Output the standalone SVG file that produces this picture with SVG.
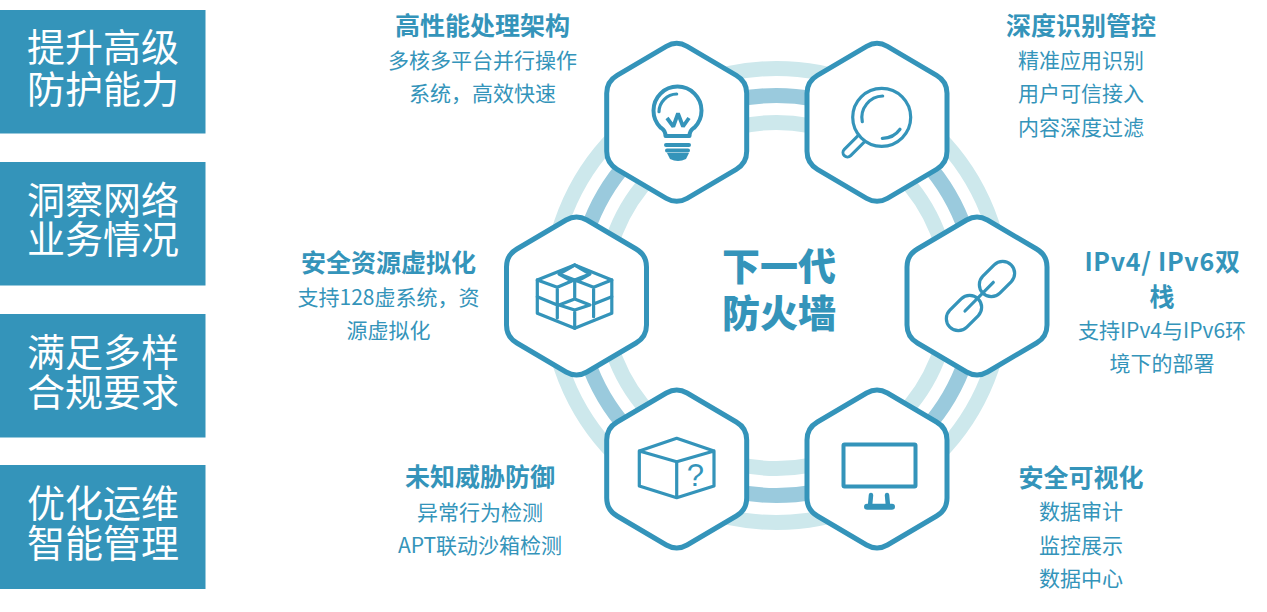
<svg xmlns="http://www.w3.org/2000/svg" width="1267" height="612" viewBox="0 0 1267 612">
<style>
text{font-family:"Noto Sans CJK SC","Liberation Sans",sans-serif;text-anchor:middle}
.box{fill:#3494BA}
.bt{fill:#fff;font-size:38px}
.ti{fill:#3494BA;font-size:25px;font-weight:700}
.de{fill:#3494BA;font-size:21px}
.ce{fill:#3494BA;font-size:38px;font-weight:900}
.hex{fill:#fff;stroke:#3494BA;stroke-width:5}
.ic{fill:none;stroke:#3494BA;stroke-width:3.200;stroke-linecap:round;stroke-linejoin:round}
.th{stroke-width:4}
.w{stroke-width:3.800;stroke-linecap:butt;stroke-linejoin:bevel}
.ring{fill:none;stroke-width:15}
.l{stroke:#CDE8EC}
.d{stroke:#9ACADD}
</style>
<defs>
<path id="h" class="hex" d="M-10.4,-76Q0,-82 10.4,-76L59.6,-47Q70,-41 70,-29L70,29Q70,41 59.6,47L10.4,76Q0,82 -10.4,76L-59.6,47Q-70,41 -70,29L-70,-29Q-70,-41 -59.6,-47Z"/>
</defs>
<rect width="1267" height="612" fill="#fff"/>
<g id="box1"><rect class="box" x="0" y="10" width="205.500" height="123.500"/><text class="bt" x="103" y="61">提升高级</text><text class="bt" x="103" y="103">防护能力</text></g>
<g id="box2"><rect class="box" x="0" y="162" width="205.500" height="123.500"/><text class="bt" x="103" y="214">洞察网络</text><text class="bt" x="103" y="253">业务情况</text></g>
<g id="box3"><rect class="box" x="0" y="314" width="205.500" height="123.500"/><text class="bt" x="103" y="366">满足多样</text><text class="bt" x="103" y="406">合规要求</text></g>
<g id="box4"><rect class="box" x="0" y="465" width="205.500" height="124"/><text class="bt" x="103" y="517">优化运维</text><text class="bt" x="103" y="557">智能管理</text></g>
<g id="connectors">
<circle class="ring l" cx="776.5" cy="295.5" r="227"/>
<circle class="ring d" cx="776.5" cy="295.5" r="200"/>
<circle class="ring l" cx="776.5" cy="295.5" r="173"/>
</g>
<g id="center"><text class="ce" x="779" y="280">下一代</text><text class="ce" x="779" y="327">防火墙</text></g>
<g id="n1">
<use href="#h" x="676.7" y="122.3"/>
<path class="ic th" d="M665.500,136C665.500,130 662,128.500 660.500,127.500A24,24 0 1 1 694.500,127.500C693,128.500 689.500,130 689.500,136Z"/>
<path class="ic" d="M676.700,94A18,18 0 0 0 659,111.700"/>
<path class="ic w" d="M667,118L673.300,126.500L678,113.500L683,126.500L689,118"/>
<path class="ic th" d="M666,145H689M667,150.500H688"/>
<path d="M667,153H689L686,159Q678,163 670,159Z" fill="#3494BA"/>
<text class="ti" x="482.500" y="35">高性能处理架构</text><text class="de" x="482.500" y="68">多核多平台并行操作</text><text class="de" x="482.500" y="101">系统，高效快速</text>
</g>
<g id="n2">
<use href="#h" x="877" y="122.3"/>
<path d="M847.500,152.500L862,138" fill="none" stroke="#3494BA" stroke-width="12" stroke-linecap="round"/>
<path d="M847.500,152.500L862,138" fill="none" stroke="#fff" stroke-width="6" stroke-linecap="round"/>
<circle cx="881.700" cy="117.300" r="29" fill="#fff" stroke="#3494BA" stroke-width="3.200"/>
<path class="ic" d="M882.700,96A21.500,21.500 0 0 0 862.300,121.700M882.300,138.300A21.500,21.500 0 0 0 900,129.300"/>
<text class="ti" x="1081" y="35">深度识别管控</text><text class="de" x="1081" y="68">精准应用识别</text><text class="de" x="1081" y="101">用户可信接入</text><text class="de" x="1081" y="135">内容深度过滤</text>
</g>
<g id="n3">
<use href="#h" x="576.5" y="296"/>
<path class="ic" d="M574.700,265L611.800,280V313.300L574.700,328.300L537.300,313.300V280Z"/>
<path class="ic" d="M574.700,265L590,274L574.700,280L559,274M537.300,280L557.300,287.300L571.800,281L559,274L574.700,265M611.800,280L593.600,287.300L577.300,281L590,274M557.300,287.300V318M593.600,287.300V316.700M574.700,280V299M574.700,299L590,305L574.700,310L559,305ZM574.700,310V328.300M537.300,296.700L557.300,305M611.800,296.700L593.600,304"/>
<text class="ti" x="388.500" y="272">安全资源虚拟化</text><text class="de" x="388.500" y="305">支持128虚系统，资</text><text class="de" x="388.500" y="338">源虚拟化</text>
</g>
<g id="n4">
<use href="#h" x="977" y="296"/>
<rect class="ic" x="977" y="267" width="40" height="24" rx="12" transform="rotate(-45 997 279)"/>
<rect class="ic" x="944" y="301" width="40" height="24" rx="12" transform="rotate(-45 964 313)"/>
<path class="ic" d="M965,311L993.300,282.300"/>
<text class="ti" x="1162.500" y="271" letter-spacing="0.700">IPv4/ IPv6双</text><text class="ti" x="1162" y="306">栈</text><text class="de" x="1162" y="338">支持IPv4与IPv6环</text><text class="de" x="1162" y="371">境下的部署</text>
</g>
<g id="n5">
<use href="#h" x="676.7" y="469"/>
<path class="ic" d="M676.700,438.300L714,451V486L676.700,497.700L639.300,486V451ZM639.300,451L676.700,461.700L714,451M676.700,461.700V497.700"/>
<text x="695.300" y="486" fill="#3494BA" font-size="31" style="font-family:'Liberation Sans',sans-serif">?</text>
<text class="ti" x="480" y="486">未知威胁防御</text><text class="de" x="480" y="520">异常行为检测</text><text class="de" x="480" y="553">APT联动沙箱检测</text>
</g>
<g id="n6">
<use href="#h" x="877" y="469"/>
<rect x="843.500" y="444.500" width="72" height="42" rx="1" fill="none" stroke="#3494BA" stroke-width="4"/>
<path d="M871,495L870,506M887,495L888,506" fill="none" stroke="#3494BA" stroke-width="4.500" stroke-linecap="round"/>
<path d="M867,506.700H892" fill="none" stroke="#3494BA" stroke-width="6" stroke-linecap="round"/>
<text class="ti" x="1081" y="487">安全可视化</text><text class="de" x="1081" y="519">数据审计</text><text class="de" x="1081" y="553">监控展示</text><text class="de" x="1081" y="586">数据中心</text>
</g>
</svg>
